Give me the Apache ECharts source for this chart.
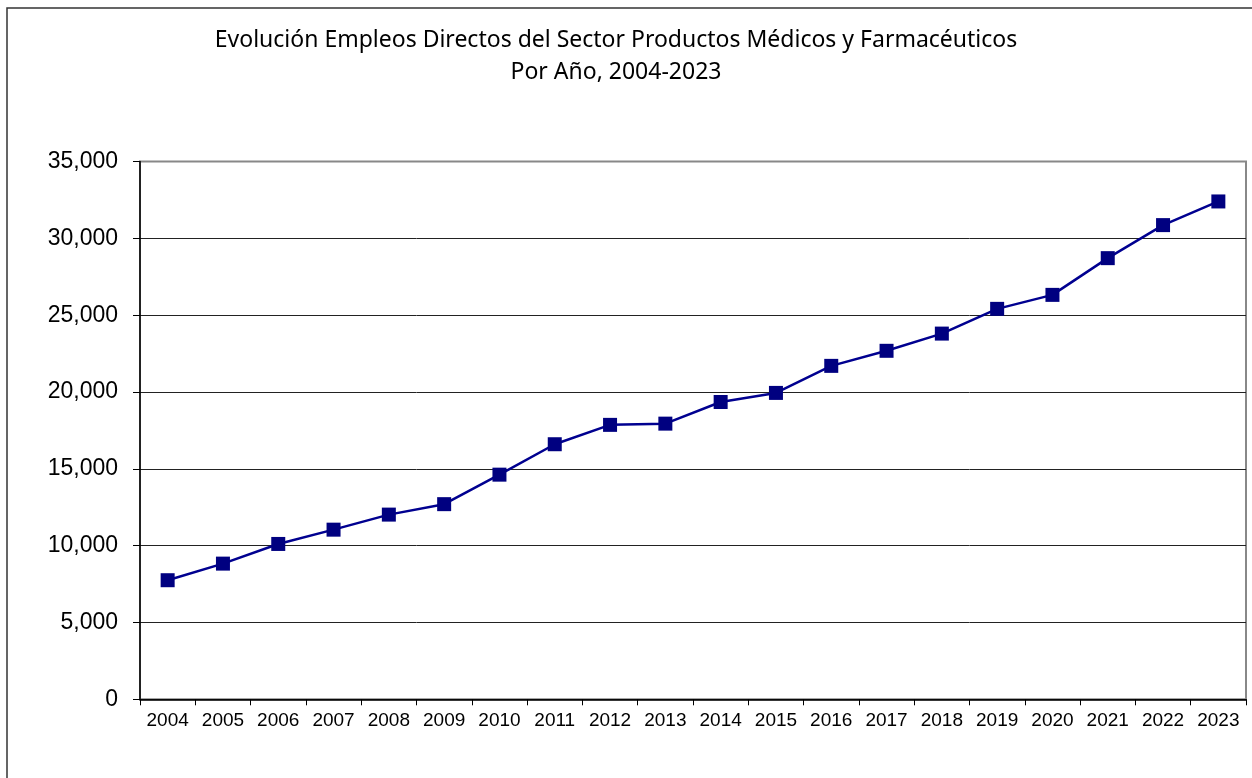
<!DOCTYPE html>
<html>
<head>
<meta charset="utf-8">
<title>Empleos Directos - Productos Médicos y Farmacéuticos</title>
<script src="https://cdn.jsdelivr.net/npm/echarts@6/dist/echarts.min.js"></script>
<style>
  html, body { margin: 0; padding: 0; background: #fff; }
  #chart { width: 1252px; height: 778px; }
</style>
</head>
<body>
<div id="chart"></div>
<script>
// data
const years = ['2004', '2005', '2006', '2007', '2008', '2009', '2010', '2011', '2012', '2013',
  '2014', '2015', '2016', '2017', '2018', '2019', '2020', '2021', '2022', '2023']
const empleos = [7750, 8830, 10110, 11040, 12020, 12700, 14620, 16600, 17860, 17940,
  19350, 19940, 21700, 22680, 23800, 25410, 26320, 28710, 30860, 32400]
const titleLines = [
  'Evolución Empleos Directos del Sector Productos Médicos y Farmacéuticos',
  'Por Año, 2004-2023',
]
const yMax = 35000
const yStep = 5000

const chart = echarts.init(document.getElementById('chart'), null, { renderer: 'canvas' })

// gridlines are dark, the top one doubles as the grey plot border
const gridColors = ['#222', '#222', '#222', '#222', '#222', '#222', '#222', '#888']

chart.setOption({
  animation: false,
  backgroundColor: '#fff',
  title: {
    text: titleLines.join('\n'),
    left: 611,
    top: 19,
    textAlign: 'center',
    textStyle: {
      fontFamily: 'Noto Sans',
      fontSize: 23,
      fontWeight: 'normal',
      color: '#000',
      lineHeight: 32,
    },
  },
  graphic: [{
    // outer frame, only its left and top edges fall inside the picture
    type: 'rect',
    z: -1,
    shape: { x: 7, y: 8, width: 1400, height: 900 },
    style: { fill: null, stroke: '#333', lineWidth: 1.5 },
  }],
  grid: {
    left: 140,
    right: 6,
    top: 161.5,
    bottom: 78.7,
    show: true,
    borderColor: '#888',
    borderWidth: 2,
    backgroundColor: 'transparent',
  },
  xAxis: {
    type: 'category',
    data: years,
    boundaryGap: true,
    axisLine: { lineStyle: { color: '#000', width: 1.5 } },
    axisTick: { show: true, length: 6, lineStyle: { color: '#000' } },
    axisLabel: {
      color: '#000',
      fontFamily: 'Liberation Sans',
      fontSize: 19,
      margin: 12,
      interval: 0,
    },
    splitLine: { show: false },
  },
  yAxis: {
    type: 'value',
    min: 0,
    max: yMax,
    interval: yStep,
    axisLine: { show: true, lineStyle: { color: '#000', width: 1.5 } },
    axisTick: { show: true, length: 7, lineStyle: { color: '#000' } },
    axisLabel: {
      color: '#000',
      fontFamily: 'Liberation Sans',
      fontSize: 23,
      margin: 22,
      formatter: v => v.toLocaleString('en-US'),
    },
    splitLine: { show: true, lineStyle: { color: gridColors, width: 1 } },
  },
  series: [{
    type: 'line',
    data: empleos,
    symbol: 'rect',
    symbolSize: 14,
    lineStyle: { color: '#000090', width: 2.5 },
    itemStyle: { color: '#000080', borderWidth: 0 },
    z: 3,
  }],
})
</script>
</body>
</html>
